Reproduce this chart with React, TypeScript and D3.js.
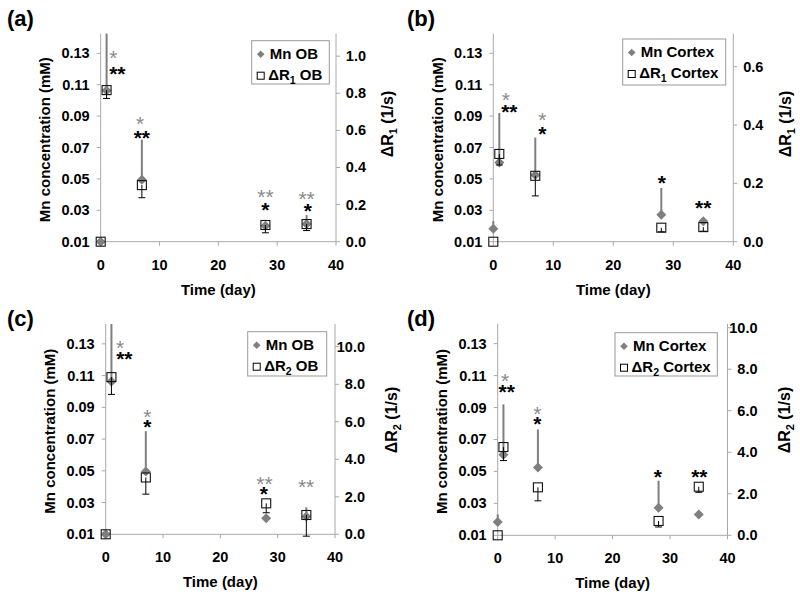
import React from "react";
import * as d3 from "d3";

const FONT = "'Liberation Sans', Arial, Helvetica, sans-serif";
const GRAY = "#7f7f7f";
const AXIS = "#a8a8a8";

// sampling days
const days = [0, 1, 7, 28, 35];
const dayTicks = [0, 10, 20, 30, 40];
const mnTicks = [0.01, 0.03, 0.05, 0.07, 0.09, 0.11, 0.13];

// Mn concentration (mM) with upper error
const mnOB = [0.01, 0.1063, 0.0495, 0.0201, 0.0212];
const mnOBErr = [0, 0.037, 0.0255, 0.0015, 0.0058];
const mnCortex = [0.0183, 0.0605, 0.0525, 0.0272, 0.023];
const mnCortexErr = [0.0048, 0.0315, 0.0238, 0.017, 0.001];

// relaxation rate changes (1/s) with lower error
const r1OB = [0, 0.817, 0.305, 0.09, 0.095];
const r1OBErr = [0, 0.045, 0.068, 0.042, 0.035];
const r1Cortex = [0, 0.301, 0.226, 0.048, 0.05];
const r1CortexErr = [0, 0.038, 0.069, 0.014, 0.014];
const r2OB = [0, 8.38, 3.03, 1.65, 1.03];
const r2OBErr = [0, 0.92, 0.89, 0.5, 1.13];
const r2Cortex = [0, 4.25, 2.31, 0.69, 2.34];
const r2CortexErr = [0, 0.65, 0.65, 0.29, 0.27];

const r1OBTicks = [0, 0.2, 0.4, 0.6, 0.8, 1.0];
const r1CortexTicks = [0, 0.2, 0.4, 0.6];
const r2Ticks = [0, 2, 4, 6, 8, 10];

// significance marks: day, Mn level, text, grey
type Mark = [number, number, string, boolean];
const marksA: Mark[] = [
  [2.15, 0.13, "*", true], [2.83, 0.12, "**", false],
  [6.7, 0.088, "*", true], [7.0, 0.0794, "**", false],
  [28.0, 0.0418, "**", true], [28.0, 0.0334, "*", false],
  [35.0, 0.0404, "**", true], [35.2, 0.0327, "*", false],
];
const marksB: Mark[] = [
  [2.1, 0.1034, "*", true], [2.67, 0.096, "**", false],
  [8.17, 0.0907, "*", true], [8.17, 0.0822, "*", false],
  [28.07, 0.0504, "*", false], [35.0, 0.0345, "**", false],
];
const marksC: Mark[] = [
  [2.5, 0.1309, "*", true], [3.25, 0.1238, "**", false],
  [7.26, 0.0874, "*", true], [7.26, 0.081, "*", false],
  [27.7, 0.0449, "**", true], [27.6, 0.0386, "*", false],
  [34.96, 0.0428, "**", true],
];
const marksD: Mark[] = [
  [1.27, 0.1098, "*", true], [1.57, 0.1029, "**", false],
  [6.9, 0.0889, "*", true], [6.9, 0.0827, "*", false],
  [27.86, 0.0497, "*", false], [35.1, 0.0497, "**", false],
];

interface PanelProps {
  tag: string;
  tagX: number;
  tagY: number;
  x0: number;
  x1: number;
  yTop: number;
  yBot: number;
  rMax: number;
  rTicks: number[];
  sub: string;
  region: string;
  mn: number[];
  mnErr: number[];
  r: number[];
  rErr: number[];
  marks: Mark[];
  legend: { x: number; y: number; w: number; h: number };
  rLabelDx: number;
  rLabelY: number;
}

const STAR = 21;

const Panel: React.FC<PanelProps> = (p) => {
  const x = d3.scaleLinear().domain([0, 40]).range([p.x0, p.x1]);
  const y = d3.scaleLinear().domain([0.01, 0.14]).range([p.yBot, p.yTop]);
  const yr = d3.scaleLinear().domain([0, p.rMax]).range([p.yBot, p.yTop]);
  const fl = d3.format(".2f");
  const fr = d3.format(".1f");
  const top = p.yTop - 4;
  const cy = (p.yTop + p.yBot) / 2;
  const cx = (p.x0 + p.x1) / 2;
  const diamond = (cxp: number, cyp: number, s: number) =>
    `M${cxp},${cyp - s}L${cxp + s},${cyp}L${cxp},${cyp + s}L${cxp - s},${cyp}Z`;
  const L = p.legend;

  return (
    <g fontFamily={FONT} fontWeight="bold">
      <text x={p.tagX} y={p.tagY} fontSize={22}>{p.tag}</text>

      {/* axes */}
      <line x1={p.x0} x2={p.x0} y1={top} y2={p.yBot} stroke={AXIS} />
      <line x1={p.x1} x2={p.x1} y1={top} y2={p.yBot} stroke={AXIS} />
      <line x1={p.x0} x2={p.x1} y1={p.yBot} y2={p.yBot} stroke={AXIS} />
      {mnTicks.map((t) => (
        <g key={"l" + t}>
          <line x1={p.x0 - 4} x2={p.x0} y1={y(t)} y2={y(t)} stroke={AXIS} />
          <text x={p.x0 - 11} y={y(t) + 5} fontSize={14.5} textAnchor="end">{fl(t)}</text>
        </g>
      ))}
      {p.rTicks.map((t) => (
        <g key={"r" + t}>
          <line x1={p.x1} x2={p.x1 + 4} y1={yr(t)} y2={yr(t)} stroke={AXIS} />
          <text x={p.x1 + 30} y={yr(t) + 5} fontSize={14.5} textAnchor="end">{fr(t)}</text>
        </g>
      ))}
      {dayTicks.map((t) => (
        <g key={"x" + t}>
          <line x1={x(t)} x2={x(t)} y1={p.yBot} y2={p.yBot + 4} stroke={AXIS} />
          <text x={x(t)} y={p.yBot + 28} fontSize={14.5} textAnchor="middle">{t}</text>
        </g>
      ))}

      <text x={cx} y={p.yBot + 53} fontSize={15} textAnchor="middle">Time (day)</text>
      <text transform={`translate(${p.x0 - 50.5},${cy}) rotate(-90)`} fontSize={15} textAnchor="middle">
        Mn concentration (mM)
      </text>
      <text transform={`translate(${p.x1 + p.rLabelDx},${p.rLabelY}) rotate(-90)`} fontSize={16} textAnchor="middle">
        ΔR<tspan fontSize={11} dy={4}>{p.sub}</tspan><tspan dy={-4}> (1/s)</tspan>
      </text>

      {/* Mn series */}
      {days.map((d, i) => (
        <line key={"me" + i} x1={x(d)} x2={x(d)} y1={y(p.mn[i])}
          y2={Math.max(top, y(p.mn[i] + p.mnErr[i]))} stroke={GRAY} strokeWidth={2} />
      ))}
      {days.map((d, i) => (
        <path key={"md" + i} d={diamond(x(d), y(p.mn[i]), 5)} fill={GRAY} />
      ))}

      {/* relaxation series */}
      {days.map((d, i) =>
        p.rErr[i] > 0 ? (
          <g key={"re" + i} stroke="#000" strokeWidth={1}>
            <line x1={x(d)} x2={x(d)} y1={yr(p.r[i])} y2={yr(p.r[i] - p.rErr[i])} />
            <line x1={x(d) - 3.5} x2={x(d) + 3.5} y1={yr(p.r[i] - p.rErr[i])} y2={yr(p.r[i] - p.rErr[i])} />
          </g>
        ) : null
      )}
      {days.map((d, i) => (
        <rect key={"rs" + i} x={x(d) - 4.5} y={yr(p.r[i]) - 4.5} width={9} height={9}
          fill="none" stroke="#111" strokeWidth={1.1} />
      ))}

      {/* significance */}
      {p.marks.map((m, i) => (
        <text key={"s" + i} x={x(m[0])} y={y(m[1]) + STAR * 0.58} fontSize={STAR} textAnchor="middle"
          fill={m[3] ? "#8a8a8a" : "#000"} fontWeight={m[3] ? "normal" : "bold"}>
          {m[2]}
        </text>
      ))}

      {/* legend */}
      <rect x={L.x} y={L.y} width={L.w} height={L.h} fill="#fff" stroke="#999" />
      <path d={diamond(L.x + 9, L.y + 13.5, 3.8)} fill={GRAY} />
      <text x={L.x + 18} y={L.y + 18} fontSize={15}>Mn {p.region}</text>
      <rect x={L.x + 5.5} y={L.y + 31.5} width={7} height={7} fill="#fff" stroke="#000" />
      <text x={L.x + 16.5} y={L.y + 39} fontSize={15}>
        ΔR<tspan fontSize={10.5} dy={4}>{p.sub}</tspan><tspan dy={-4}> {p.region}</tspan>
      </text>
    </g>
  );
};

export default function App() {
  return (
    <svg width={800} height={597} style={{ position: "absolute", left: 0, top: 0, background: "#fff" }}>
      <Panel tag="(a)" tagX={7} tagY={25.5} x0={100.7} x1={336} yTop={37.6} yBot={241.7}
        rMax={1.1} rTicks={r1OBTicks} sub="1" region="OB" mn={mnOB} mnErr={mnOBErr}
        r={r1OB} rErr={r1OBErr} marks={marksA} legend={{ x: 251.7, y: 40.7, w: 77.6, h: 43.3 }}
        rLabelDx={57} rLabelY={124} />
      <Panel tag="(b)" tagX={407} tagY={25.5} x0={493.3} x1={733.3} yTop={37.6} yBot={241.7}
        rMax={0.7} rTicks={r1CortexTicks} sub="1" region="Cortex" mn={mnCortex} mnErr={mnCortexErr}
        r={r1Cortex} rErr={r1CortexErr} marks={marksB} legend={{ x: 622.7, y: 39, w: 103, h: 46 }}
        rLabelDx={57.5} rLabelY={124} />
      <Panel tag="(c)" tagX={7} tagY={325.5} x0={105.7} x1={335} yTop={328} yBot={534.3}
        rMax={11} rTicks={r2Ticks} sub="2" region="OB" mn={mnOB} mnErr={mnOBErr}
        r={r2OB} rErr={r2OBErr} marks={marksC} legend={{ x: 247.7, y: 331.7, w: 79, h: 44.3 }}
        rLabelDx={62} rLabelY={420} />
      <Panel tag="(d)" tagX={407} tagY={325.5} x0={497.7} x1={727.5} yTop={327.7} yBot={535.3}
        rMax={10} rTicks={r2Ticks} sub="2" region="Cortex" mn={mnCortex} mnErr={mnCortexErr}
        r={r2Cortex} rErr={r2CortexErr} marks={marksD} legend={{ x: 615, y: 332.7, w: 102.3, h: 43.3 }}
        rLabelDx={62} rLabelY={420} />
    </svg>
  );
}
